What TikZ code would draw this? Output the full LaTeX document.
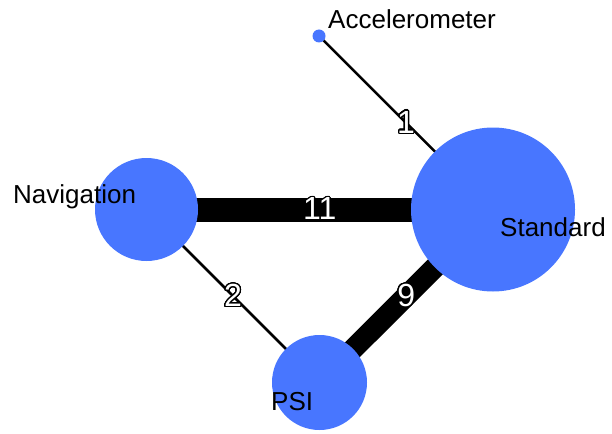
\documentclass[tikz,border=0pt]{standalone}
\usepackage{fontspec}
\setmainfont{Liberation Sans}
\usepackage{xcolor}
\usepackage{contour}
\usepackage{tikz}
\usetikzlibrary{backgrounds}
\definecolor{vertexblue}{HTML}{4876FF}
\contourlength{1.2pt}
\contournumber{32}

\tikzset{
  vertex/.style={circle, fill=vertexblue, inner sep=0pt},
  vname/.style={anchor=base west, inner sep=0pt, font=\fontsize{26}{30}\selectfont},
  link/.style={draw=black, line cap=butt},
  weight/.style={midway, inner sep=0pt, text=white, font=\fontsize{32}{36}\selectfont}
}

\begin{document}
\begin{tikzpicture}[x=1pt, y=-1pt]
  \useasboundingbox (0,0) rectangle (612,433);
  \node[vertex, minimum size=13] (acc) at (319,36) {};
  \node[vertex, minimum size=164] (std) at (493,209.5) {};
  \node[vertex, minimum size=103] (nav) at (146.5,209.5) {};
  \node[vertex, minimum size=95] (psi) at (319.5,382.5) {};

  \node[vname] (accname) at (328,29) {Accelerometer};
  \node[vname] (stdname) at (500,236) {Standard};
  \node[vname] (navname) at (13,203) {Navigation};
  \node[vname] (psiname) at (271,410) {PSI};

  \begin{scope}[on background layer]
    \draw[link, line width=2.5] (acc.center) -- (std.center) node[weight] {\contour{black}{1}};
    \draw[link, line width=24] (nav.center) -- (std.center) node[weight] {\contour{black}{11}};
    \draw[link, line width=2.5] (nav.center) -- (psi.center) node[weight] {\contour{black}{2}};
    \draw[link, line width=21] (psi.center) -- (std.center) node[weight] {\contour{black}{9}};
  \end{scope}
\end{tikzpicture}
\end{document}
